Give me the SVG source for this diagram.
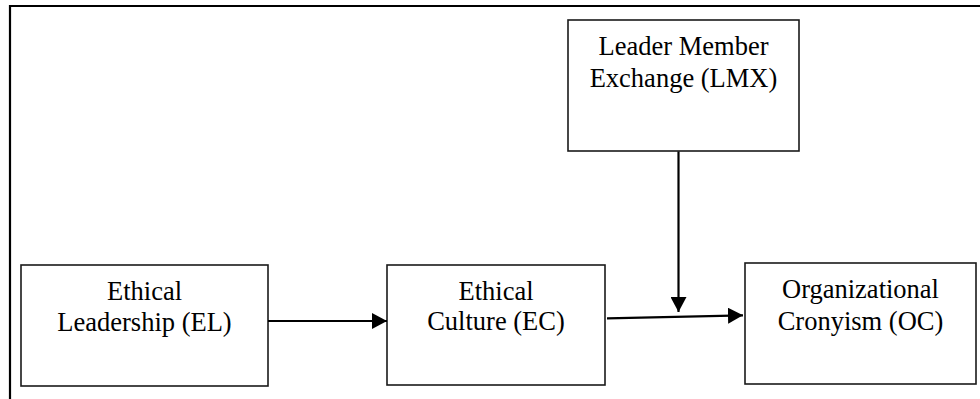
<svg xmlns="http://www.w3.org/2000/svg" width="980" height="399" viewBox="0 0 980 399">
  <defs>
    <style>
      .box { fill: #ffffff; stroke: #1a1a1a; stroke-width: 1.6; }
      .lbl { font-family: "Liberation Serif", "Times New Roman", serif; font-size: 26.5px; fill: #000; text-anchor: middle; }
      .edge { stroke: #000; stroke-width: 2.2; fill: none; marker-end: url(#ah); }
      .frame { stroke: #000; stroke-width: 2.2; fill: none; }
    </style>
    <marker id="ah" markerUnits="userSpaceOnUse" markerWidth="15" markerHeight="16" refX="15" refY="8" orient="auto">
      <path d="M0,0 L15,8 L0,16 z" fill="#000"/>
    </marker>
  </defs>
  <rect width="980" height="399" fill="#ffffff"/>
  <path class="frame" d="M10,399 L10,6 L980,6"/>

  <g id="node-el">
    <rect class="box" x="21" y="265" width="247" height="121"/>
    <text class="lbl" x="144.5" y="299.5">Ethical</text>
    <text class="lbl" x="144.5" y="331">Leadership (EL)</text>
  </g>
  <g id="node-ec">
    <rect class="box" x="387" y="265" width="218" height="120"/>
    <text class="lbl" x="496" y="300">Ethical</text>
    <text class="lbl" x="496" y="330">Culture (EC)</text>
  </g>
  <g id="node-lmx">
    <rect class="box" x="568" y="20" width="231" height="131"/>
    <text class="lbl" x="683.5" y="55">Leader Member</text>
    <text class="lbl" x="683.5" y="87">Exchange (LMX)</text>
  </g>
  <g id="node-oc">
    <rect class="box" x="745" y="263" width="231" height="121"/>
    <text class="lbl" x="860.5" y="298">Organizational</text>
    <text class="lbl" x="860.5" y="330">Cronyism (OC)</text>
  </g>

  <g id="connectors">
    <line class="edge" x1="268" y1="321" x2="387" y2="321"/>
    <line class="edge" x1="607" y1="318.3" x2="743" y2="315.3"/>
    <line class="edge" x1="678.5" y1="151.5" x2="678.5" y2="312"/>
  </g>
</svg>
